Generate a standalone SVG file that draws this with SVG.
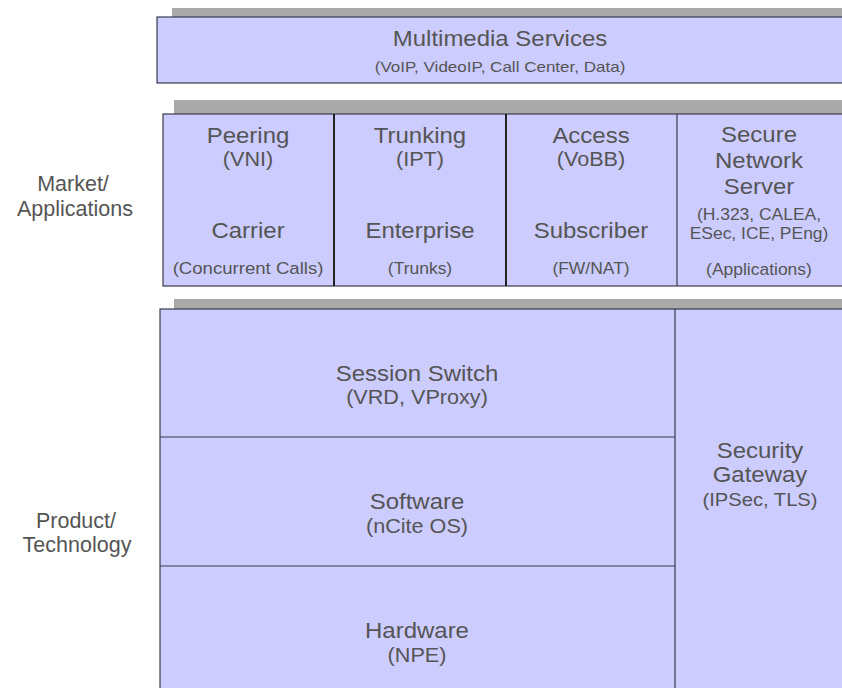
<svg xmlns="http://www.w3.org/2000/svg" width="842" height="688" viewBox="0 0 842 688">
<style>
.bar{fill:#a9a9a9}
.box{fill:#ccccff;stroke:#3a3a4a;stroke-width:1.2}
.div{stroke:#222;stroke-width:2;fill:none}
.thin{stroke:#3a3a4a;stroke-width:1.2;fill:none}
text{font-family:"Liberation Sans",Arial,sans-serif;fill:#555555;text-anchor:middle}
.side{font-size:21.5px}
.l{font-size:21.4px}
.m{font-size:19.3px}
.s{font-size:15.2px}
.xs{font-size:15.6px}
</style>
<rect width="842" height="688" fill="#ffffff"/>
<g id="labels">
<text class="side" x="73" y="191">Market/</text>
<text class="side" x="75" y="216">Applications</text>
<text class="side" x="76" y="528">Product/</text>
<text class="side" x="77" y="552">Technology</text>
</g>
<g id="multimedia">
<rect class="bar" x="172" y="8" width="680" height="9"/>
<rect class="box" x="157" y="17" width="700" height="66"/>
<text class="l" transform="matrix(1.12 0 0 1 500 46)">Multimedia Services</text>
<text class="s" transform="matrix(1.12 0 0 1 500 72)">(VoIP, VideoIP, Call Center, Data)</text>
</g>
<g id="market-row">
<rect class="bar" x="174" y="100" width="680" height="14"/>
<rect class="box" x="163" y="114" width="700" height="172"/>
</g>
<g id="peering">
<text class="l" transform="matrix(1.12 0 0 1 248 143)">Peering</text>
<text class="m" transform="matrix(1.12 0 0 1 248 166)">(VNI)</text>
<text class="l" transform="matrix(1.12 0 0 1 248 238)">Carrier</text>
<text class="xs" style="font-size:16.6px" transform="matrix(1.12 0 0 1 248 274)">(Concurrent Calls)</text>
</g>
<g id="trunking">
<text class="l" transform="matrix(1.12 0 0 1 420 143)">Trunking</text>
<text class="m" transform="matrix(1.12 0 0 1 420 166)">(IPT)</text>
<text class="l" transform="matrix(1.12 0 0 1 420 238)">Enterprise</text>
<text class="xs" transform="matrix(1.12 0 0 1 420 274)">(Trunks)</text>
</g>
<g id="access">
<text class="l" transform="matrix(1.12 0 0 1 591 143)">Access</text>
<text class="m" transform="matrix(1.12 0 0 1 591 166)">(VoBB)</text>
<text class="l" transform="matrix(1.12 0 0 1 591 238)">Subscriber</text>
<text class="xs" transform="matrix(1.12 0 0 1 591 274)">(FW/NAT)</text>
</g>
<g id="secure-network-server">
<text class="l" transform="matrix(1.12 0 0 1 759 142)">Secure</text>
<text class="l" transform="matrix(1.12 0 0 1 759 168)">Network</text>
<text class="l" transform="matrix(1.12 0 0 1 759 194)">Server</text>
<text class="xs" transform="matrix(1.12 0 0 1 759 220)">(H.323, CALEA,</text>
<text class="xs" transform="matrix(1.12 0 0 1 759 239)">ESec, ICE, PEng)</text>
<text class="xs" transform="matrix(1.12 0 0 1 759 275)">(Applications)</text>
</g>
<g id="product-row">
<rect class="bar" x="174" y="299" width="680" height="10"/>
<rect class="box" x="160" y="309" width="700" height="390"/>
</g>
<g id="session-switch">
<text class="l" transform="matrix(1.12 0 0 1 417 381)">Session Switch</text>
<text class="m" transform="matrix(1.12 0 0 1 417 404)">(VRD, VProxy)</text>
</g>
<g id="software">
<text class="l" transform="matrix(1.12 0 0 1 417 509)">Software</text>
<text class="m" transform="matrix(1.12 0 0 1 417 533)">(nCite OS)</text>
</g>
<g id="hardware">
<text class="l" transform="matrix(1.12 0 0 1 417 638)">Hardware</text>
<text class="m" transform="matrix(1.12 0 0 1 417 662)">(NPE)</text>
</g>
<g id="security-gateway">
<text class="l" transform="matrix(1.12 0 0 1 760 458)">Security</text>
<text class="l" transform="matrix(1.12 0 0 1 760 482)">Gateway</text>
<text class="m" style="font-size:18px" transform="matrix(1.12 0 0 1 760 506)">(IPSec, TLS)</text>
</g>
<g id="connectors">
<line class="div" x1="334" y1="114" x2="334" y2="286"/>
<line class="div" x1="506" y1="114" x2="506" y2="286"/>
<line class="thin" x1="677" y1="114" x2="677" y2="286"/>
<line class="thin" x1="675" y1="309" x2="675" y2="688"/>
<line class="thin" x1="160" y1="437" x2="675" y2="437"/>
<line class="thin" x1="160" y1="566" x2="675" y2="566"/>
</g>
</svg>
